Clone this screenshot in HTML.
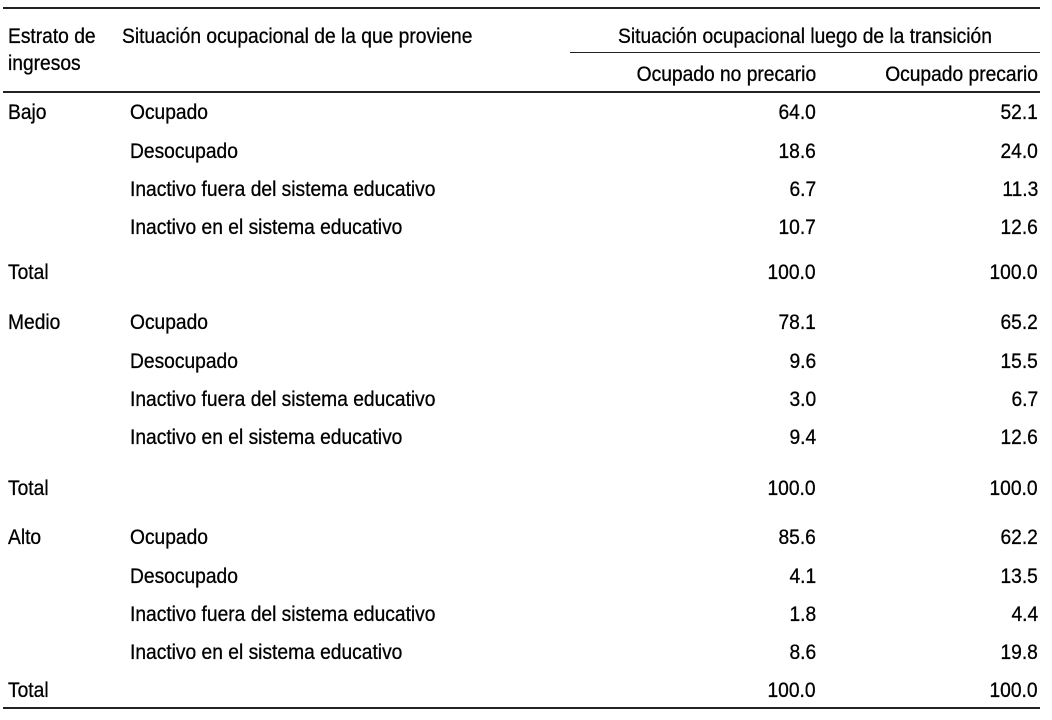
<!DOCTYPE html>
<html><head><meta charset="utf-8">
<style>
html,body{margin:0;padding:0;background:#fff;}
#t{position:relative;width:1052px;height:720px;overflow:hidden;font-family:"Liberation Sans",sans-serif;font-size:21px;color:#000;-webkit-text-stroke:0.3px #000;}
.x{position:absolute;line-height:24px;white-space:nowrap;transform:scaleX(0.915);transform-origin:left center;}
.r{text-align:right;transform-origin:right center;}
.c{transform-origin:center center;}
.ln{position:absolute;height:1.5px;background:#222;}
</style></head><body>
<div id="t">
<div class="ln" style="left:3px;top:7px;width:1037px"></div>
<div class="ln" style="left:570px;top:52px;width:470px;height:1px"></div>
<div class="ln" style="left:3px;top:91px;width:1037px"></div>
<div class="ln" style="left:3px;top:707px;width:1037px"></div>
<div class="x" style="left:8px;top:25px">Estrato de</div>
<div class="x" style="left:8px;top:52px">ingresos</div>
<div class="x" style="left:122px;top:25px">Situación ocupacional de la que proviene</div>
<div class="x c" style="left:570px;width:470px;text-align:center;top:25px">Situación ocupacional luego de la transición</div>
<div class="x r" style="right:236px;top:63px">Ocupado no precario</div>
<div class="x r" style="right:14px;top:63px">Ocupado precario</div>
</div>
<script>
const strata=["Bajo","Medio","Alto"];
const origins=["Ocupado","Desocupado","Inactivo fuera del sistema educativo","Inactivo en el sistema educativo"];
const noPrecario=[[64.0,18.6,6.7,10.7],[78.1,9.6,3.0,9.4],[85.6,4.1,1.8,8.6]];
const precario=[[52.1,24.0,11.3,12.6],[65.2,15.5,6.7,12.6],[62.2,13.5,4.4,19.8]];
const totals=[[100,100],[100,100],[100,100]];
const t=document.getElementById('t');
function add(txt,style,cls,name){
  const d=document.createElement('div');
  d.className='x'+(cls?' '+cls:'');
  d.setAttribute('style',style);
  d.textContent=txt;
  
  
  t.appendChild(d);
}
const blockStarts=[113,323,538];
const rowGap=[0,39,77,115];
const totalOff=[160,166,153];
strata.forEach((s,i)=>{
  const y0=blockStarts[i];
  add(s,`left:8px;top:${y0-12}px`,'','stratum-label');
  origins.forEach((o,j)=>{
    const y=y0+rowGap[j];
    add(o,`left:130px;top:${y-12}px`,'','origin-label');
    add(noPrecario[i][j].toFixed(1),`right:236px;top:${y-12}px`,'r','value-no-precario');
    add(precario[i][j].toFixed(1),`right:14px;top:${y-12}px`,'r','value-precario');
  });
  const yt=y0+totalOff[i];
  add('Total',`left:8px;top:${yt-12}px`,'','total-label');
  add(totals[i][0].toFixed(1),`right:236px;top:${yt-12}px`,'r','total-no-precario');
  add(totals[i][1].toFixed(1),`right:14px;top:${yt-12}px`,'r','total-precario');
});
</script>
</body></html>
